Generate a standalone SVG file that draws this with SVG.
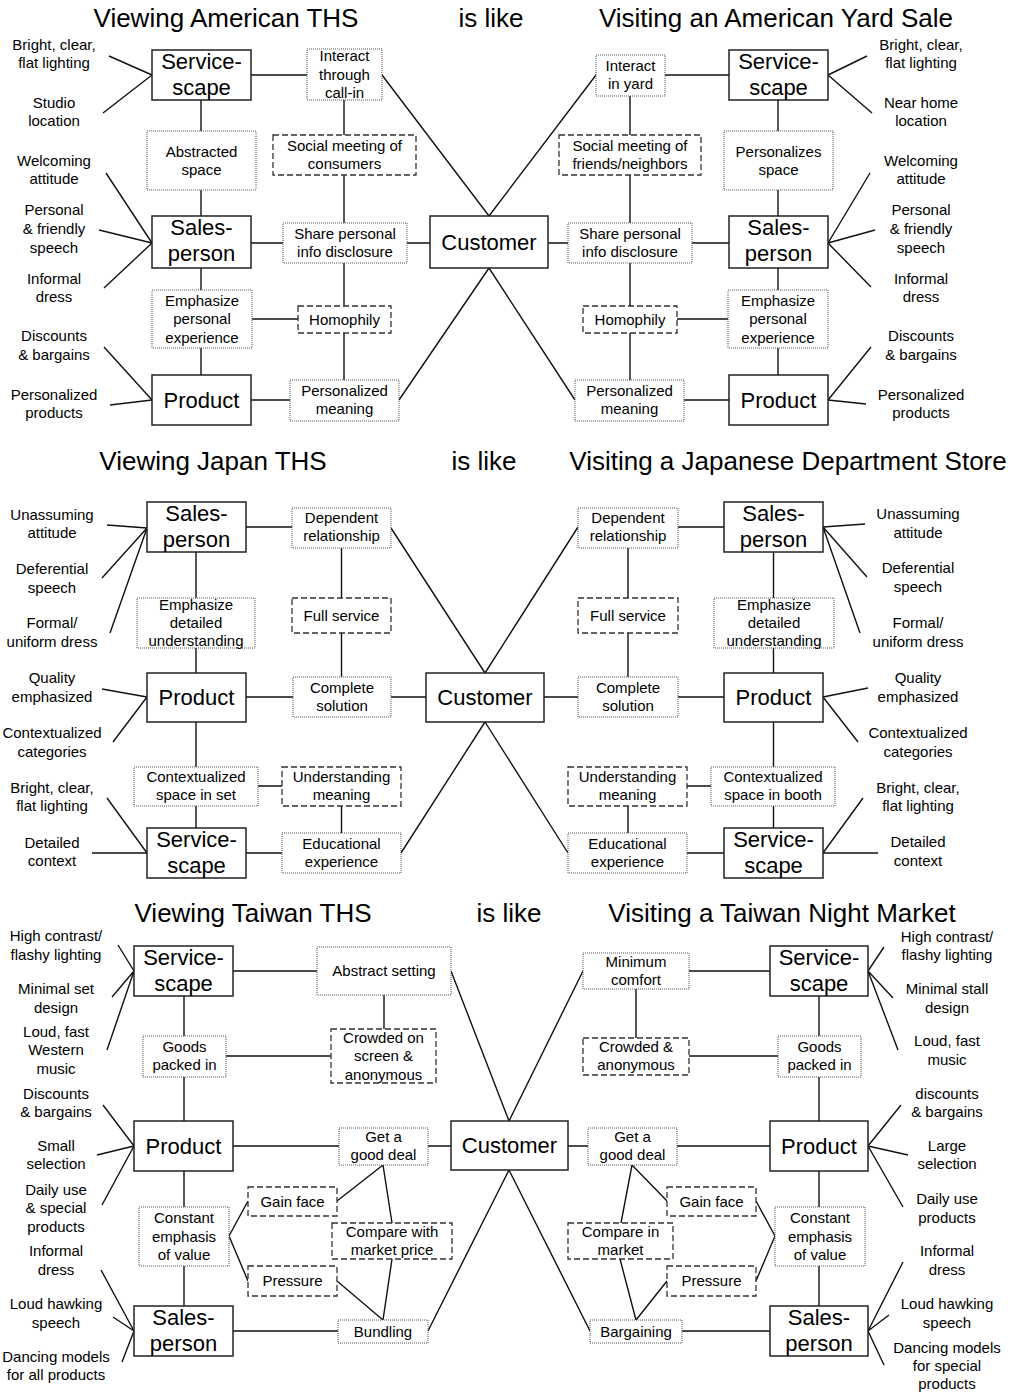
<svg xmlns="http://www.w3.org/2000/svg" width="1013" height="1393" viewBox="0 0 1013 1393">
<style>
text{font-family:"Liberation Sans",Arial,sans-serif;font-size:15px;text-anchor:middle;fill:#000}
.h{font-size:26px}
.n{font-size:22px}
.m{fill:#fff;stroke:#222;stroke-width:1.5}
.d{fill:#fff;stroke:#555;stroke-width:1;stroke-dasharray:1 1}
.k{fill:#fff;stroke:#333;stroke-width:1.3;stroke-dasharray:6 3}
#connectors path{stroke:#111;stroke-width:1.4;fill:none}
</style>
<rect width="1013" height="1393" fill="#fff"/>
<g id="titles">
<text class="h" x="226" y="27">Viewing American THS</text>
<text class="h" x="491" y="27">is like</text>
<text class="h" x="776" y="27">Visiting an American Yard Sale</text>
<text class="h" x="213" y="470">Viewing Japan THS</text>
<text class="h" x="484" y="470">is like</text>
<text class="h" x="788" y="470">Visiting a Japanese Department Store</text>
<text class="h" x="253" y="922">Viewing Taiwan THS</text>
<text class="h" x="509" y="922">is like</text>
<text class="h" x="782" y="922">Visiting a Taiwan Night Market</text>
</g>
<g id="connectors">
<!-- section 1 left -->
<path d="M251,75H307M201,100V131M344,100V135M201,190V216M344,175V223M251,243H283M407,243H430M201,268V290M344,263V306M252,319H298M201,348V375M344,333V380M251,400H290M382,75L489,216M399,400L489,268"/>
<path d="M109,56L152,75M103,113L152,75M106,173L152,243M99,230L152,243M104,288L152,243M104,347L152,400M110,405L152,400"/>
<!-- section 1 right -->
<path d="M665,75H729M778,100V131M630,96V135M778,190V216M630,175V223M548,243H568M692,243H729M778,268V290M630,263V306M677,319H728M778,348V375M630,333V380M684,400H729M596,75L489,216M575,400L489,268"/>
<path d="M828,75L867,56M828,75L872,113M828,243L870,173M828,243L875,230M828,243L871,287M828,400L871,347M828,400L866,404"/>
<!-- section 2 left -->
<path d="M246,527H292M196,552V598M341.5,548V598M196,648V673M341.5,633V677M246,697H293M391,697H426M196,722V767M196,806V828M258,786H282M341.5,806V833M246,853H282M391,528L485,673M401,853L485,722"/>
<path d="M107,525L147,528M102,578L147,528M110,633L147,528M102,689L147,697M113,742L147,697M107,798L147,853M92,853L147,853"/>
<!-- section 2 right -->
<path d="M678,527H724M773.5,552V598M628,548V598M773.5,648V673M628,633V677M544,697H578M678,697H724M773.5,722V767M773.5,806V828M687,786H711M628,806V833M687,853H724M578,527L485,673M568,853L485,722"/>
<path d="M823,527L865,524M823,527L867,577M823,527L860,633M823,697L868,688M823,697L858,742M823,853L863,798M823,853L878,853"/>
<!-- section 3 left -->
<path d="M233,971H317M184,996V1036M384,995V1029M226,1056H331M184,1077V1121M233,1146H339M428,1146H451M184,1171V1207M184,1266V1306M229,1236L248,1201M229,1236L248,1281M337,1201L383,1165M383,1165L392,1223M392,1259L383,1320M337,1281L383,1320M233,1331H338M451,971L509,1121M428,1331L509,1170"/>
<path d="M118,945L134,971M112,997L134,971M107,1050L134,971M103,1105L134,1146M97,1155L134,1146M102,1205L134,1146M101,1270L134,1331M113,1317L134,1331M122,1362L134,1331"/>
<!-- section 3 right -->
<path d="M689,971H770M636,989V1038M819,996V1036M689,1056H778M819,1077V1121M568,1146H588M677,1146H770M819,1171V1207M819,1266V1306M632,1165L667,1201M632,1165L621,1223M620,1259L636,1320M667,1281L636,1320M756,1201L775,1236M756,1281L775,1236M682,1331H770M583,971L509,1121M590,1331L509,1170"/>
<path d="M868,971L884,947M868,971L893,998M868,971L898,1050M868,1146L901,1105M868,1146L908,1155M868,1146L903,1207M868,1331L903,1262M868,1331L889,1315M868,1331L884,1365"/>
</g>

<!-- ===== Section 1 ===== -->
<g id="s1-cust"><rect class="m" x="430" y="216" width="118" height="52"/><text class="n" x="489" y="250">Customer</text></g>
<g id="s1-L-serv"><rect class="m" x="152" y="50" width="99" height="50"/><text class="n" x="201.5" y="69">Service-</text><text class="n" x="201.5" y="95">scape</text></g>
<g id="s1-L-interact"><rect class="d" x="307" y="49" width="75" height="51"/><text x="344.5" y="61">Interact</text><text x="344.5" y="79.5">through</text><text x="344.5" y="98">call-in</text></g>
<g id="s1-L-abstr"><rect class="d" x="147" y="131" width="109" height="59"/><text x="201.5" y="157">Abstracted</text><text x="201.5" y="175">space</text></g>
<g id="s1-L-social"><rect class="k" x="273" y="135" width="143" height="40"/><text x="344.5" y="151">Social meeting of</text><text x="344.5" y="169">consumers</text></g>
<g id="s1-L-sales"><rect class="m" x="152" y="216" width="99" height="52"/><text class="n" x="201.5" y="235">Sales-</text><text class="n" x="201.5" y="261">person</text></g>
<g id="s1-L-share"><rect class="d" x="283" y="223" width="124" height="40"/><text x="345" y="239">Share personal</text><text x="345" y="257">info disclosure</text></g>
<g id="s1-L-emph"><rect class="d" x="152" y="290" width="100" height="58"/><text x="202" y="305.5">Emphasize</text><text x="202" y="324">personal</text><text x="202" y="342.5">experience</text></g>
<g id="s1-L-homo"><rect class="k" x="298" y="306" width="93" height="27"/><text x="344.5" y="325">Homophily</text></g>
<g id="s1-L-prod"><rect class="m" x="152" y="375" width="99" height="50"/><text class="n" x="201.5" y="408">Product</text></g>
<g id="s1-L-pmean"><rect class="d" x="290" y="380" width="109" height="41"/><text x="344.5" y="396">Personalized</text><text x="344.5" y="414">meaning</text></g>

<g id="s1-R-interact"><rect class="d" x="596" y="55" width="69" height="41"/><text x="630.5" y="71">Interact</text><text x="630.5" y="89">in yard</text></g>
<g id="s1-R-serv"><rect class="m" x="729" y="50" width="99" height="50"/><text class="n" x="778.5" y="69">Service-</text><text class="n" x="778.5" y="95">scape</text></g>
<g id="s1-R-social"><rect class="k" x="559" y="135" width="142" height="40"/><text x="630" y="151">Social meeting of</text><text x="630" y="169">friends/neighbors</text></g>
<g id="s1-R-pers"><rect class="d" x="724" y="131" width="109" height="59"/><text x="778.5" y="157">Personalizes</text><text x="778.5" y="175">space</text></g>
<g id="s1-R-share"><rect class="d" x="568" y="223" width="124" height="40"/><text x="630" y="239">Share personal</text><text x="630" y="257">info disclosure</text></g>
<g id="s1-R-sales"><rect class="m" x="729" y="216" width="99" height="52"/><text class="n" x="778.5" y="235">Sales-</text><text class="n" x="778.5" y="261">person</text></g>
<g id="s1-R-homo"><rect class="k" x="583" y="306" width="94" height="27"/><text x="630" y="325">Homophily</text></g>
<g id="s1-R-emph"><rect class="d" x="728" y="290" width="100" height="58"/><text x="778" y="305.5">Emphasize</text><text x="778" y="324">personal</text><text x="778" y="342.5">experience</text></g>
<g id="s1-R-pmean"><rect class="d" x="575" y="380" width="109" height="41"/><text x="629.5" y="396">Personalized</text><text x="629.5" y="414">meaning</text></g>
<g id="s1-R-prod"><rect class="m" x="729" y="375" width="99" height="50"/><text class="n" x="778.5" y="408">Product</text></g>

<g id="s1-L-labels">
<g id="s1-L-lab1"><text x="54" y="50">Bright, clear,</text><text x="54" y="68">flat lighting</text></g>
<g id="s1-L-lab2"><text x="54" y="108">Studio</text><text x="54" y="126">location</text></g>
<g id="s1-L-lab3"><text x="54" y="166">Welcoming</text><text x="54" y="184">attitude</text></g>
<g id="s1-L-lab4"><text x="54" y="215">Personal</text><text x="54" y="234">&amp; friendly</text><text x="54" y="252.5">speech</text></g>
<g id="s1-L-lab5"><text x="54" y="284">Informal</text><text x="54" y="302">dress</text></g>
<g id="s1-L-lab6"><text x="54" y="341">Discounts</text><text x="54" y="360">&amp; bargains</text></g>
<g id="s1-L-lab7"><text x="54" y="400">Personalized</text><text x="54" y="418">products</text></g>
</g>
<g id="s1-R-labels">
<g id="s1-R-lab1"><text x="921" y="50">Bright, clear,</text><text x="921" y="68">flat lighting</text></g>
<g id="s1-R-lab2"><text x="921" y="108">Near home</text><text x="921" y="126">location</text></g>
<g id="s1-R-lab3"><text x="921" y="166">Welcoming</text><text x="921" y="184">attitude</text></g>
<g id="s1-R-lab4"><text x="921" y="215">Personal</text><text x="921" y="234">&amp; friendly</text><text x="921" y="252.5">speech</text></g>
<g id="s1-R-lab5"><text x="921" y="284">Informal</text><text x="921" y="302">dress</text></g>
<g id="s1-R-lab6"><text x="921" y="341">Discounts</text><text x="921" y="360">&amp; bargains</text></g>
<g id="s1-R-lab7"><text x="921" y="400">Personalized</text><text x="921" y="418">products</text></g>
</g>

<!-- ===== Section 2 ===== -->
<g id="s2-cust"><rect class="m" x="426" y="673" width="118" height="49"/><text class="n" x="485" y="705">Customer</text></g>
<g id="s2-L-sales"><rect class="m" x="147" y="502" width="99" height="50"/><text class="n" x="196.5" y="521">Sales-</text><text class="n" x="196.5" y="547">person</text></g>
<g id="s2-L-dep"><rect class="d" x="292" y="508" width="99" height="40"/><text x="341.5" y="523">Dependent</text><text x="341.5" y="541">relationship</text></g>
<g id="s2-L-emph"><rect class="d" x="137" y="598" width="118" height="50"/><text x="196" y="610">Emphasize</text><text x="196" y="628">detailed</text><text x="196" y="646">understanding</text></g>
<g id="s2-L-full"><rect class="k" x="292" y="598" width="99" height="35"/><text x="341.5" y="621">Full service</text></g>
<g id="s2-L-prod"><rect class="m" x="147" y="673" width="99" height="49"/><text class="n" x="196.5" y="705">Product</text></g>
<g id="s2-L-comp"><rect class="d" x="293" y="677" width="98" height="40"/><text x="342" y="693">Complete</text><text x="342" y="711">solution</text></g>
<g id="s2-L-ctx"><rect class="d" x="134" y="767" width="124" height="39"/><text x="196" y="782">Contextualized</text><text x="196" y="800">space in set</text></g>
<g id="s2-L-und"><rect class="k" x="282" y="767" width="119" height="39"/><text x="341.5" y="782">Understanding</text><text x="341.5" y="800">meaning</text></g>
<g id="s2-L-serv"><rect class="m" x="147" y="828" width="99" height="50"/><text class="n" x="196.5" y="847">Service-</text><text class="n" x="196.5" y="873">scape</text></g>
<g id="s2-L-edu"><rect class="d" x="282" y="833" width="119" height="40"/><text x="341.5" y="849">Educational</text><text x="341.5" y="867">experience</text></g>

<g id="s2-R-dep"><rect class="d" x="578" y="508" width="100" height="40"/><text x="628" y="523">Dependent</text><text x="628" y="541">relationship</text></g>
<g id="s2-R-sales"><rect class="m" x="724" y="502" width="99" height="50"/><text class="n" x="773.5" y="521">Sales-</text><text class="n" x="773.5" y="547">person</text></g>
<g id="s2-R-full"><rect class="k" x="578" y="598" width="100" height="35"/><text x="628" y="621">Full service</text></g>
<g id="s2-R-emph"><rect class="d" x="714" y="598" width="120" height="50"/><text x="774" y="610">Emphasize</text><text x="774" y="628">detailed</text><text x="774" y="646">understanding</text></g>
<g id="s2-R-comp"><rect class="d" x="578" y="677" width="100" height="40"/><text x="628" y="693">Complete</text><text x="628" y="711">solution</text></g>
<g id="s2-R-prod"><rect class="m" x="724" y="673" width="99" height="49"/><text class="n" x="773.5" y="705">Product</text></g>
<g id="s2-R-und"><rect class="k" x="568" y="767" width="119" height="39"/><text x="627.5" y="782">Understanding</text><text x="627.5" y="800">meaning</text></g>
<g id="s2-R-ctx"><rect class="d" x="711" y="767" width="124" height="39"/><text x="773" y="782">Contextualized</text><text x="773" y="800">space in booth</text></g>
<g id="s2-R-edu"><rect class="d" x="568" y="833" width="119" height="40"/><text x="627.5" y="849">Educational</text><text x="627.5" y="867">experience</text></g>
<g id="s2-R-serv"><rect class="m" x="724" y="828" width="99" height="50"/><text class="n" x="773.5" y="847">Service-</text><text class="n" x="773.5" y="873">scape</text></g>

<g id="s2-L-labels">
<g id="s2-L-lab1"><text x="52" y="520">Unassuming</text><text x="52" y="538">attitude</text></g>
<g id="s2-L-lab2"><text x="52" y="574">Deferential</text><text x="52" y="593">speech</text></g>
<g id="s2-L-lab3"><text x="52" y="628">Formal/</text><text x="52" y="647">uniform dress</text></g>
<g id="s2-L-lab4"><text x="52" y="683">Quality</text><text x="52" y="702">emphasized</text></g>
<g id="s2-L-lab5"><text x="52" y="738">Contextualized</text><text x="52" y="757">categories</text></g>
<g id="s2-L-lab6"><text x="52" y="793">Bright, clear,</text><text x="52" y="811">flat lighting</text></g>
<g id="s2-L-lab7"><text x="52" y="848">Detailed</text><text x="52" y="866">context</text></g>
</g>
<g id="s2-R-labels">
<g id="s2-R-lab1"><text x="918" y="519">Unassuming</text><text x="918" y="538">attitude</text></g>
<g id="s2-R-lab2"><text x="918" y="573">Deferential</text><text x="918" y="592">speech</text></g>
<g id="s2-R-lab3"><text x="918" y="628">Formal/</text><text x="918" y="647">uniform dress</text></g>
<g id="s2-R-lab4"><text x="918" y="683">Quality</text><text x="918" y="702">emphasized</text></g>
<g id="s2-R-lab5"><text x="918" y="738">Contextualized</text><text x="918" y="757">categories</text></g>
<g id="s2-R-lab6"><text x="918" y="793">Bright, clear,</text><text x="918" y="811">flat lighting</text></g>
<g id="s2-R-lab7"><text x="918" y="847">Detailed</text><text x="918" y="866">context</text></g>
</g>

<!-- ===== Section 3 ===== -->
<g id="s3-cust"><rect class="m" x="451" y="1121" width="117" height="49"/><text class="n" x="509.5" y="1153">Customer</text></g>
<g id="s3-L-serv"><rect class="m" x="134" y="946" width="99" height="50"/><text class="n" x="183.5" y="965">Service-</text><text class="n" x="183.5" y="991">scape</text></g>
<g id="s3-L-abs"><rect class="d" x="317" y="947" width="134" height="48"/><text x="384" y="976">Abstract setting</text></g>
<g id="s3-L-goods"><rect class="d" x="143" y="1036" width="83" height="41"/><text x="184.5" y="1052">Goods</text><text x="184.5" y="1070">packed in</text></g>
<g id="s3-L-crowd"><rect class="k" x="331" y="1029" width="105" height="54"/><text x="383.5" y="1042.5">Crowded on</text><text x="383.5" y="1061">screen &amp;</text><text x="383.5" y="1079.5">anonymous</text></g>
<g id="s3-L-prod"><rect class="m" x="134" y="1121" width="99" height="50"/><text class="n" x="183.5" y="1154">Product</text></g>
<g id="s3-L-deal"><rect class="d" x="339" y="1128" width="89" height="37"/><text x="383.5" y="1142">Get a</text><text x="383.5" y="1160">good deal</text></g>
<g id="s3-L-const"><rect class="d" x="139" y="1207" width="90" height="59"/><text x="184" y="1223">Constant</text><text x="184" y="1241.5">emphasis</text><text x="184" y="1260">of value</text></g>
<g id="s3-L-gain"><rect class="k" x="248" y="1187" width="89" height="29"/><text x="292.5" y="1207">Gain face</text></g>
<g id="s3-L-cmp"><rect class="k" x="332" y="1223" width="120" height="36"/><text x="392" y="1237">Compare with</text><text x="392" y="1255">market price</text></g>
<g id="s3-L-press"><rect class="k" x="248" y="1266" width="89" height="30"/><text x="292.5" y="1286">Pressure</text></g>
<g id="s3-L-sales"><rect class="m" x="134" y="1306" width="99" height="50"/><text class="n" x="183.5" y="1325">Sales-</text><text class="n" x="183.5" y="1351">person</text></g>
<g id="s3-L-bund"><rect class="d" x="338" y="1320" width="90" height="23"/><text x="383" y="1337">Bundling</text></g>

<g id="s3-R-min"><rect class="d" x="583" y="953" width="106" height="36"/><text x="636" y="967">Minimum</text><text x="636" y="985">comfort</text></g>
<g id="s3-R-serv"><rect class="m" x="770" y="946" width="98" height="50"/><text class="n" x="819" y="965">Service-</text><text class="n" x="819" y="991">scape</text></g>
<g id="s3-R-crowd"><rect class="k" x="583" y="1038" width="106" height="37"/><text x="636" y="1052">Crowded &amp;</text><text x="636" y="1070">anonymous</text></g>
<g id="s3-R-goods"><rect class="d" x="778" y="1036" width="83" height="41"/><text x="819.5" y="1052">Goods</text><text x="819.5" y="1070">packed in</text></g>
<g id="s3-R-deal"><rect class="d" x="588" y="1128" width="89" height="37"/><text x="632.5" y="1142">Get a</text><text x="632.5" y="1160">good deal</text></g>
<g id="s3-R-prod"><rect class="m" x="770" y="1121" width="98" height="50"/><text class="n" x="819" y="1154">Product</text></g>
<g id="s3-R-gain"><rect class="k" x="667" y="1187" width="89" height="29"/><text x="711.5" y="1207">Gain face</text></g>
<g id="s3-R-cmp"><rect class="k" x="568" y="1223" width="105" height="36"/><text x="620.5" y="1237">Compare in</text><text x="620.5" y="1255">market</text></g>
<g id="s3-R-press"><rect class="k" x="667" y="1266" width="89" height="30"/><text x="711.5" y="1286">Pressure</text></g>
<g id="s3-R-const"><rect class="d" x="775" y="1207" width="90" height="59"/><text x="820" y="1223">Constant</text><text x="820" y="1241.5">emphasis</text><text x="820" y="1260">of value</text></g>
<g id="s3-R-barg"><rect class="d" x="590" y="1320" width="92" height="23"/><text x="636" y="1337">Bargaining</text></g>
<g id="s3-R-sales"><rect class="m" x="770" y="1306" width="98" height="50"/><text class="n" x="819" y="1325">Sales-</text><text class="n" x="819" y="1351">person</text></g>

<g id="s3-L-labels">
<g id="s3-L-lab1"><text x="56" y="941">High contrast/</text><text x="56" y="960">flashy lighting</text></g>
<g id="s3-L-lab2"><text x="56" y="994">Minimal set</text><text x="56" y="1013">design</text></g>
<g id="s3-L-lab3"><text x="56" y="1037">Loud, fast</text><text x="56" y="1055">Western</text><text x="56" y="1074">music</text></g>
<g id="s3-L-lab4"><text x="56" y="1099">Discounts</text><text x="56" y="1117">&amp; bargains</text></g>
<g id="s3-L-lab5"><text x="56" y="1151">Small</text><text x="56" y="1169">selection</text></g>
<g id="s3-L-lab6"><text x="56" y="1195">Daily use</text><text x="56" y="1213">&amp; special</text><text x="56" y="1232">products</text></g>
<g id="s3-L-lab7"><text x="56" y="1256">Informal</text><text x="56" y="1275">dress</text></g>
<g id="s3-L-lab8"><text x="56" y="1309">Loud hawking</text><text x="56" y="1328">speech</text></g>
<g id="s3-L-lab9"><text x="56" y="1362">Dancing models</text><text x="56" y="1380">for all products</text></g>
</g>
<g id="s3-R-labels">
<g id="s3-R-lab1"><text x="947" y="942">High contrast/</text><text x="947" y="960">flashy lighting</text></g>
<g id="s3-R-lab2"><text x="947" y="994">Minimal stall</text><text x="947" y="1013">design</text></g>
<g id="s3-R-lab3"><text x="947" y="1046">Loud, fast</text><text x="947" y="1065">music</text></g>
<g id="s3-R-lab4"><text x="947" y="1099">discounts</text><text x="947" y="1117">&amp; bargains</text></g>
<g id="s3-R-lab5"><text x="947" y="1151">Large</text><text x="947" y="1169">selection</text></g>
<g id="s3-R-lab6"><text x="947" y="1204">Daily use</text><text x="947" y="1223">products</text></g>
<g id="s3-R-lab7"><text x="947" y="1256">Informal</text><text x="947" y="1275">dress</text></g>
<g id="s3-R-lab8"><text x="947" y="1309">Loud hawking</text><text x="947" y="1328">speech</text></g>
<g id="s3-R-lab9"><text x="947" y="1353">Dancing models</text><text x="947" y="1371">for special</text><text x="947" y="1389">products</text></g>
</g>
</svg>
